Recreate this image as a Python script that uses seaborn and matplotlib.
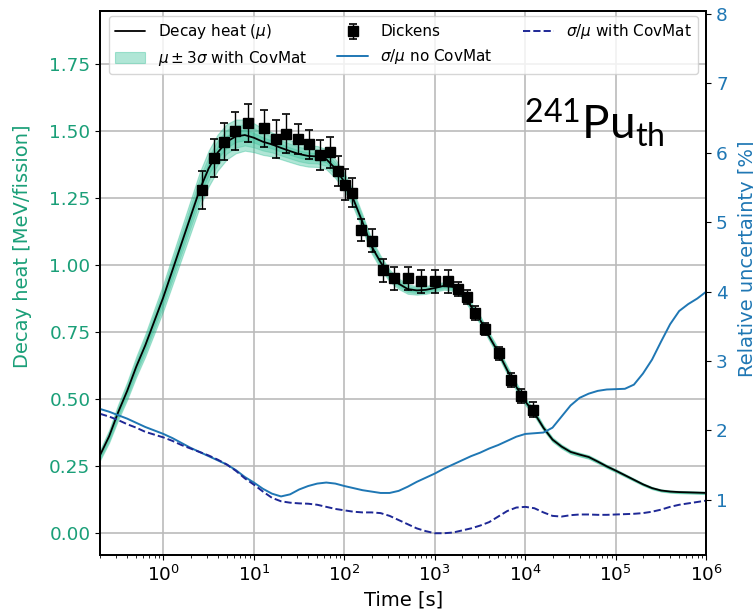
import numpy as np
import pandas as pd
import matplotlib
matplotlib.use('Agg')
import matplotlib.pyplot as plt
import seaborn as sns

# time grid (log10 of seconds) on which the model curves are read
log_time = [-0.7, -0.6, -0.5, -0.4, -0.3, -0.2, -0.1,
            0.0, 0.1, 0.2, 0.3, 0.4, 0.5, 0.6, 0.7, 0.8, 0.9,
            1.0, 1.1, 1.2, 1.3, 1.4, 1.5, 1.6, 1.7, 1.8, 1.9,
            2.0, 2.1, 2.2, 2.3, 2.4, 2.5, 2.6, 2.7, 2.8, 2.9,
            3.0, 3.1, 3.2, 3.3, 3.4, 3.5, 3.6, 3.7, 3.8, 3.9,
            4.0, 4.1, 4.2, 4.3, 4.4, 4.5, 4.6, 4.7, 4.8, 4.9,
            5.0, 5.1, 5.2, 5.3, 5.4, 5.5, 5.6, 5.7, 5.8, 5.9,
            6.0]

# decay heat mu [MeV/fission]
decay_heat = [0.29, 0.36, 0.45, 0.53, 0.62, 0.70, 0.79,
              0.88, 0.98, 1.08, 1.18, 1.28, 1.36, 1.42, 1.46, 1.48, 1.485,
              1.475, 1.46, 1.45, 1.437, 1.425, 1.414, 1.407, 1.405, 1.395, 1.36,
              1.31, 1.245, 1.16, 1.07, 1.01, 0.96, 0.93, 0.91, 0.905, 0.907,
              0.914, 0.922, 0.918, 0.895, 0.845, 0.795, 0.733, 0.674, 0.607, 0.545,
              0.49, 0.447, 0.392, 0.348, 0.322, 0.302, 0.292, 0.283, 0.266, 0.248,
              0.232, 0.215, 0.198, 0.181, 0.167, 0.158, 0.154, 0.152, 0.151, 0.150,
              0.149]

# sigma/mu [%] without covariance matrix
rel_unc_nocov = [2.31, 2.27, 2.22, 2.17, 2.11, 2.05, 2.00,
                 1.95, 1.89, 1.82, 1.75, 1.69, 1.63, 1.57, 1.51, 1.43, 1.33,
                 1.25, 1.16, 1.09, 1.05, 1.08, 1.15, 1.20, 1.235, 1.25, 1.235,
                 1.20, 1.17, 1.14, 1.12, 1.10, 1.10, 1.13, 1.19, 1.26, 1.32,
                 1.38, 1.45, 1.51, 1.57, 1.63, 1.68, 1.74, 1.79, 1.85, 1.91,
                 1.95, 1.96, 1.97, 2.04, 2.20, 2.36, 2.47, 2.53, 2.57, 2.59,
                 2.595, 2.60, 2.66, 2.82, 3.02, 3.28, 3.53, 3.72, 3.82, 3.90,
                 4.00]

# sigma/mu [%] with covariance matrix
rel_unc_cov = [2.24, 2.20, 2.15, 2.09, 2.04, 1.98, 1.94,
               1.90, 1.85, 1.79, 1.74, 1.69, 1.64, 1.58, 1.51, 1.42, 1.31,
               1.22, 1.12, 1.03, 0.98, 0.96, 0.95, 0.945, 0.93, 0.90, 0.87,
               0.85, 0.83, 0.82, 0.82, 0.81, 0.77, 0.71, 0.65, 0.59, 0.55,
               0.52, 0.52, 0.53, 0.56, 0.59, 0.63, 0.68, 0.76, 0.84, 0.89,
               0.90, 0.88, 0.82, 0.77, 0.76, 0.78, 0.79, 0.79, 0.785, 0.785,
               0.79, 0.795, 0.80, 0.81, 0.83, 0.86, 0.90, 0.93, 0.95, 0.97,
               0.99]

# Dickens measurement
dickens_time = [2.65, 3.64, 4.69, 6.2, 8.7, 12.8, 17.7, 22.5, 30.4, 40.2,
                53.2, 68.6, 84.1, 100.5, 121, 151, 202, 264, 350, 504,
                703, 995, 1397, 1803, 2265, 2755, 3556, 5077, 7016, 9054,
                12080]
dickens_heat = [1.28, 1.40, 1.46, 1.50, 1.53, 1.51, 1.47, 1.49, 1.47, 1.45,
                1.41, 1.42, 1.35, 1.30, 1.27, 1.13, 1.09, 0.98, 0.95, 0.95,
                0.94, 0.94, 0.94, 0.91, 0.88, 0.82, 0.76, 0.67, 0.57, 0.51,
                0.46]
dickens_err = [0.07, 0.07, 0.07, 0.07, 0.07, 0.07, 0.072, 0.073, 0.057, 0.054,
               0.057, 0.058, 0.057, 0.057, 0.055, 0.04, 0.043, 0.043, 0.043, 0.043,
               0.043, 0.043, 0.043, 0.027, 0.026, 0.025, 0.022, 0.023, 0.025, 0.027,
               0.028]

heat_color = '#1a9f78'
band_color = '#1fb98c'
unc_color = '#1f77b4'
cov_color = '#1e2896'

sns.set_style('ticks')
plt.rcParams['font.family'] = ['DejaVu Sans']
plt.rcParams['font.size'] = 13.3
plt.rcParams['text.color'] = 'black'
plt.rcParams['axes.labelcolor'] = 'black'
plt.rcParams['mathtext.fontset'] = 'dejavusans'
plt.rcParams['mathtext.rm'] = 'Lato'
plt.rcParams['mathtext.it'] = 'Lato:italic'
plt.rcParams['axes.edgecolor'] = 'black'
plt.rcParams['axes.linewidth'] = 1.3
plt.rcParams['xtick.color'] = 'black'
plt.rcParams['ytick.color'] = 'black'

df = pd.DataFrame({
    'time': 10 ** np.array(log_time),
    'mu': decay_heat,
    'nocov': rel_unc_nocov,
    'cov': rel_unc_cov,
})

fig, ax = plt.subplots(figsize=(7.53, 6.13), dpi=100)
fig.subplots_adjust(left=0.133, right=0.938, bottom=0.095, top=0.982)

# mu +- k sigma bands (covariance matrix included)
for k, a in [(3, 0.35), (2, 0.25), (1, 0.25)]:
    lo = df['mu'] * (1 - k * df['cov'] / 100)
    hi = df['mu'] * (1 + k * df['cov'] / 100)
    ax.fill_between(df['time'], lo, hi, color=band_color, alpha=a, lw=0.8,
                    label=r'$\mu \pm 3\sigma$ with CovMat' if k == 3 else None)

sns.lineplot(data=df, x='time', y='mu', ax=ax, color='black', lw=1.3,
             label=r'Decay heat ($\mu$)')
ax.errorbar(dickens_time, dickens_heat, yerr=dickens_err, fmt='s', color='black',
            ms=7, capsize=3, elinewidth=1, capthick=1.2, label='Dickens')

ax.set_xscale('log')
ax.set_xlim(0.2, 1e6)
ax.set_ylim(-0.082, 1.948)
ax.grid(True, which='major', color='#bbbbbb', lw=1.2)
ax.set_xlabel('Time [s]', fontsize=14)
ax.set_ylabel('Decay heat [MeV/fission]', color=heat_color, fontsize=14)
ax.yaxis.set_label_coords(-0.112, 0.568)
ax.tick_params(axis='y', labelcolor=heat_color)

ax2 = ax.twinx()
sns.lineplot(data=df, x='time', y='nocov', ax=ax2, color=unc_color, lw=1.4,
             label=r'$\sigma/\mu$ no CovMat')
sns.lineplot(data=df, x='time', y='cov', ax=ax2, color=cov_color, lw=1.4,
             linestyle='--', label=r'$\sigma/\mu$ with CovMat')
ax2.set_ylim(0.21, 8.04)
ax2.set_yticks(range(1, 9))
ax2.set_ylabel('Relative uncertainty [%]', color=unc_color, fontsize=14)
ax2.yaxis.set_label_coords(1.052, 0.545)
ax2.tick_params(axis='y', labelcolor=unc_color)
ax2.set_xlabel('')

# combine legends of both axes
h1, l1 = ax.get_legend_handles_labels()
h2, l2 = ax2.get_legend_handles_labels()
for a_ in (ax, ax2):
    if a_.get_legend() is not None:
        a_.get_legend().remove()
lookup = dict(zip(l1 + l2, h1 + h2))
order = [r'Decay heat ($\mu$)', r'$\mu \pm 3\sigma$ with CovMat', 'Dickens',
         r'$\sigma/\mu$ no CovMat', r'$\sigma/\mu$ with CovMat']
ax2.legend([lookup[o] for o in order], order, loc='upper center', ncol=3,
           fontsize=11, borderaxespad=0.35)

ax.text(0.70, 0.765, r'$^{241}\mathrm{Pu}_{\mathrm{th}}$', transform=ax.transAxes,
        fontsize=33, math_fontfamily='custom', va='baseline', ha='left',
        color='black')

fig.savefig('out.png', dpi=100)
